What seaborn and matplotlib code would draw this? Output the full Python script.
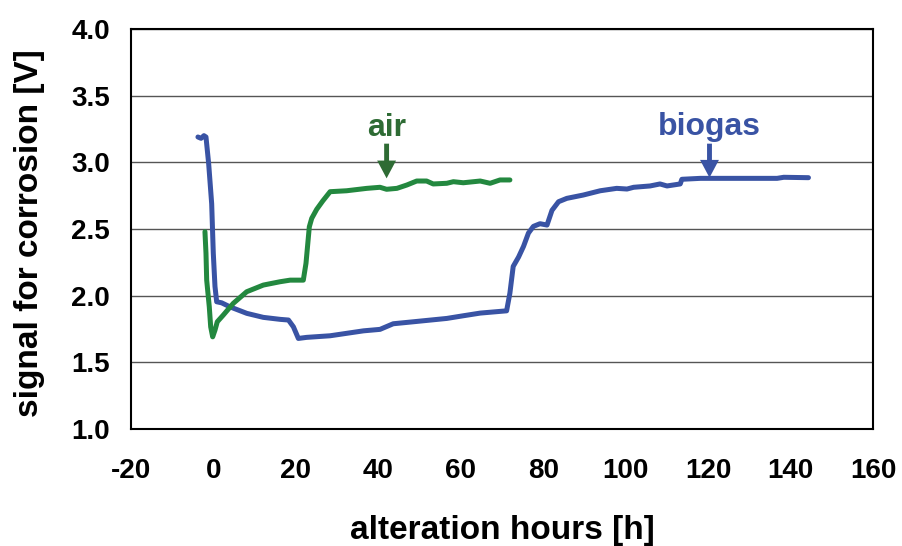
import matplotlib
matplotlib.use("Agg")
import matplotlib.pyplot as plt
import seaborn as sns
import pandas as pd

# biogas series (hours, volts)
biogas_h = [-3.75, -3.0, -2.3, -1.8, -1.15, -0.42, -0.03, 0.38, 0.79, 2.0, 4.0, 8.1, 12.1, 16.2, 18.2,
            19.4, 20.6, 22.6, 28.3, 36.4, 40.4, 43.6, 48.5, 56.6, 60.6, 64.7, 71.1, 71.9, 72.7,
            74.0, 75.2, 76.4, 77.6, 79.2, 80.9, 82.1, 83.7, 85.7, 89.7, 93.8, 97.8, 100.3, 101.9,
            105.9, 108.3, 110.0, 113.2, 113.6, 118.1, 136.7, 138.3, 144.3]
biogas_v = [3.19, 3.18, 3.20, 3.19, 2.99, 2.69, 2.32, 2.07, 1.955, 1.947, 1.917, 1.868, 1.838, 1.823, 1.818,
            1.767, 1.68, 1.688, 1.70, 1.737, 1.748, 1.79, 1.805, 1.83, 1.85, 1.87, 1.887, 2.02, 2.22,
            2.29, 2.37, 2.47, 2.52, 2.54, 2.53, 2.64, 2.705, 2.73, 2.755, 2.787, 2.805, 2.80, 2.813,
            2.823, 2.838, 2.823, 2.838, 2.873, 2.88, 2.88, 2.888, 2.885]

# air series (hours, volts)
air_h = [-2.05, -1.8, -1.63, -1.0, -0.66, -0.18, 0.38, 0.94, 2.39, 4.82, 8.07, 12.1, 16.15, 18.6, 21.8,
         22.45, 23.26, 23.84, 25.05, 26.5, 28.3, 32.3, 37.2, 40.4, 42.0, 44.5, 46.9, 49.3, 51.7, 53.3,
         56.6, 58.2, 60.6, 64.7, 67.1, 69.5, 71.9]
air_v = [2.48, 2.318, 2.117, 1.917, 1.767, 1.692, 1.742, 1.805, 1.855, 1.943, 2.03, 2.08, 2.105, 2.117, 2.117,
         2.243, 2.517, 2.58, 2.648, 2.71, 2.78, 2.787, 2.805, 2.813, 2.798, 2.805, 2.83, 2.86, 2.86, 2.838,
         2.843, 2.855, 2.847, 2.86, 2.843, 2.868, 2.868]

x_ticks = [-20, 0, 20, 40, 60, 80, 100, 120, 140, 160]
y_ticks = [1.0, 1.5, 2.0, 2.5, 3.0, 3.5, 4.0]

BLUE = "#3953a4"
GREEN = "#23883f"
GREEN_TXT = "#2e6b34"

sns.set_style("white")
plt.rcParams['font.family'] = ['Liberation Sans', 'DejaVu Sans']
plt.rcParams['font.weight'] = 'bold'
plt.rcParams['text.color'] = 'black'
plt.rcParams['axes.labelcolor'] = 'black'
plt.rcParams['xtick.color'] = 'black'
plt.rcParams['ytick.color'] = 'black'

df = pd.concat([
    pd.DataFrame({"h": biogas_h, "v": biogas_v, "s": "biogas"}),
    pd.DataFrame({"h": air_h, "v": air_v, "s": "air"}),
], ignore_index=True)

fig = plt.figure(figsize=(9.03, 5.46), dpi=100)
ax = fig.add_axes([0.145, 0.214, 0.822, 0.733])

sns.lineplot(data=df, x="h", y="v", hue="s", palette={"biogas": BLUE, "air": GREEN},
             sort=False, estimator=None, linewidth=3.6, legend=False, ax=ax)

ax.set_xlim(-20, 160)
ax.set_ylim(1.0, 4.0)
ax.set_xticks(x_ticks)
ax.set_yticks(y_ticks)
ax.set_xticklabels([str(t) for t in x_ticks])
ax.set_yticklabels([f"{t:.1f}" for t in y_ticks])
ax.tick_params(axis='both', direction='out', length=6, width=1.2, color='black',
               labelcolor='black', labelsize=20)
ax.tick_params(axis='x', pad=15)
ax.tick_params(axis='y', pad=9)
for lab in ax.get_xticklabels() + ax.get_yticklabels():
    lab.set_fontweight('bold')

ax.yaxis.grid(True, color='#555555', linewidth=1.0)
ax.xaxis.grid(False)
ax.set_axisbelow(True)
for sp in ax.spines.values():
    sp.set_visible(True)
    sp.set_color('black')
    sp.set_linewidth(1.5)

ax.set_xlabel("alteration hours [h]", fontsize=24, fontweight='bold', color='black')
ax.set_ylabel("signal for corrosion [V]", fontsize=24, fontweight='bold', color='black')
ax.xaxis.label.set_va('center')
ax.yaxis.label.set_va('center')
ax.xaxis.set_label_coords(0.5, -0.2525)
ax.yaxis.set_label_coords(-0.136, 0.49)

arrow_style = "simple,head_width=0.85,head_length=0.8,tail_width=0.22"
ax.annotate("", xy=(42, 2.88), xytext=(42, 3.14),
            arrowprops=dict(arrowstyle=arrow_style, color=GREEN_TXT, lw=0, mutation_scale=16,
                            shrinkA=0, shrinkB=0))
ax.text(42, 3.255, "air", color=GREEN_TXT, fontsize=23, fontweight='bold', ha='center', va='center')
ax.annotate("", xy=(120.3, 2.885), xytext=(120.3, 3.14),
            arrowprops=dict(arrowstyle=arrow_style, color=BLUE, lw=0, mutation_scale=16,
                            shrinkA=0, shrinkB=0))
ax.text(120.3, 3.265, "biogas", color=BLUE, fontsize=23, fontweight='bold', ha='center', va='center')

fig.savefig("out.png", dpi=100)
